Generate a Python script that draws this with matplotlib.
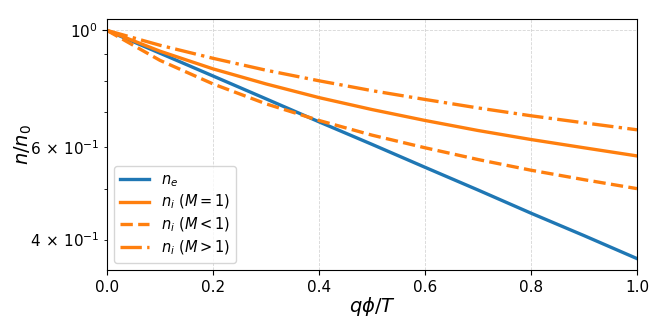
import matplotlib
matplotlib.use("Agg")
import matplotlib.pyplot as plt
from matplotlib.ticker import FuncFormatter
import numpy as np

x = [0.0, 0.1, 0.2, 0.3, 0.4, 0.5, 0.6, 0.7, 0.8, 0.9, 1.0]
n_e = [1.0, 0.905, 0.819, 0.741, 0.670, 0.607, 0.549, 0.497, 0.449, 0.407, 0.368]
n_i_M1 = [1.0, 0.913, 0.845, 0.791, 0.745, 0.707, 0.674, 0.645, 0.620, 0.598, 0.577]
n_i_Mlt1 = [1.0, 0.877, 0.791, 0.725, 0.674, 0.632, 0.598, 0.568, 0.542, 0.520, 0.500]
n_i_Mgt1 = [1.0, 0.937, 0.885, 0.840, 0.802, 0.768, 0.739, 0.712, 0.688, 0.667, 0.647]

labels = [r"$n_e$", r"$n_i\ (M=1)$", r"$n_i\ (M<1)$", r"$n_i\ (M>1)$"]
labelled_minor = [0.4, 0.6]

fig = plt.figure(figsize=(6.64, 3.32), dpi=100)
ax = fig.add_axes([107/664, 1-270/332, (637-107)/664, (270-19)/332])
lw = 2.4
ax.plot(x, n_e, color="#1f77b4", lw=lw, label=labels[0])
ax.plot(x, n_i_M1, color="#ff7f0e", lw=lw, label=labels[1])
ax.plot(x, n_i_Mlt1, color="#ff7f0e", lw=lw, ls="--", label=labels[2])
ax.plot(x, n_i_Mgt1, color="#ff7f0e", lw=lw, ls="-.", label=labels[3])
ax.set_yscale("log")
ax.set_xlim(0, 1)


def minor_fmt(v, pos):
    for m in labelled_minor:
        if abs(v - m) < 1e-6:
            e = int(np.floor(np.log10(v) + 1e-9))
            c = v / 10.0 ** e
            return r"$\mathdefault{%d\,\times\,10^{%d}}$" % (round(c), e)
    return ""


ax.yaxis.set_minor_formatter(FuncFormatter(minor_fmt))
ax.grid(True, which="major", ls="--", lw=0.6, color="#cccccc", alpha=0.8)
ax.tick_params(labelsize=11)
ax.tick_params(which="minor", labelsize=11)
ax.set_xlabel(r"$q\phi/T$", fontsize=14, labelpad=0)
ax.set_ylabel(r"$n/n_0$", fontsize=14)
ax.yaxis.set_label_coords(-0.138, 0.5)
ax.legend(loc="lower left", fontsize=10.5, labelspacing=0.3)
fig.savefig("out.png", dpi=100)
